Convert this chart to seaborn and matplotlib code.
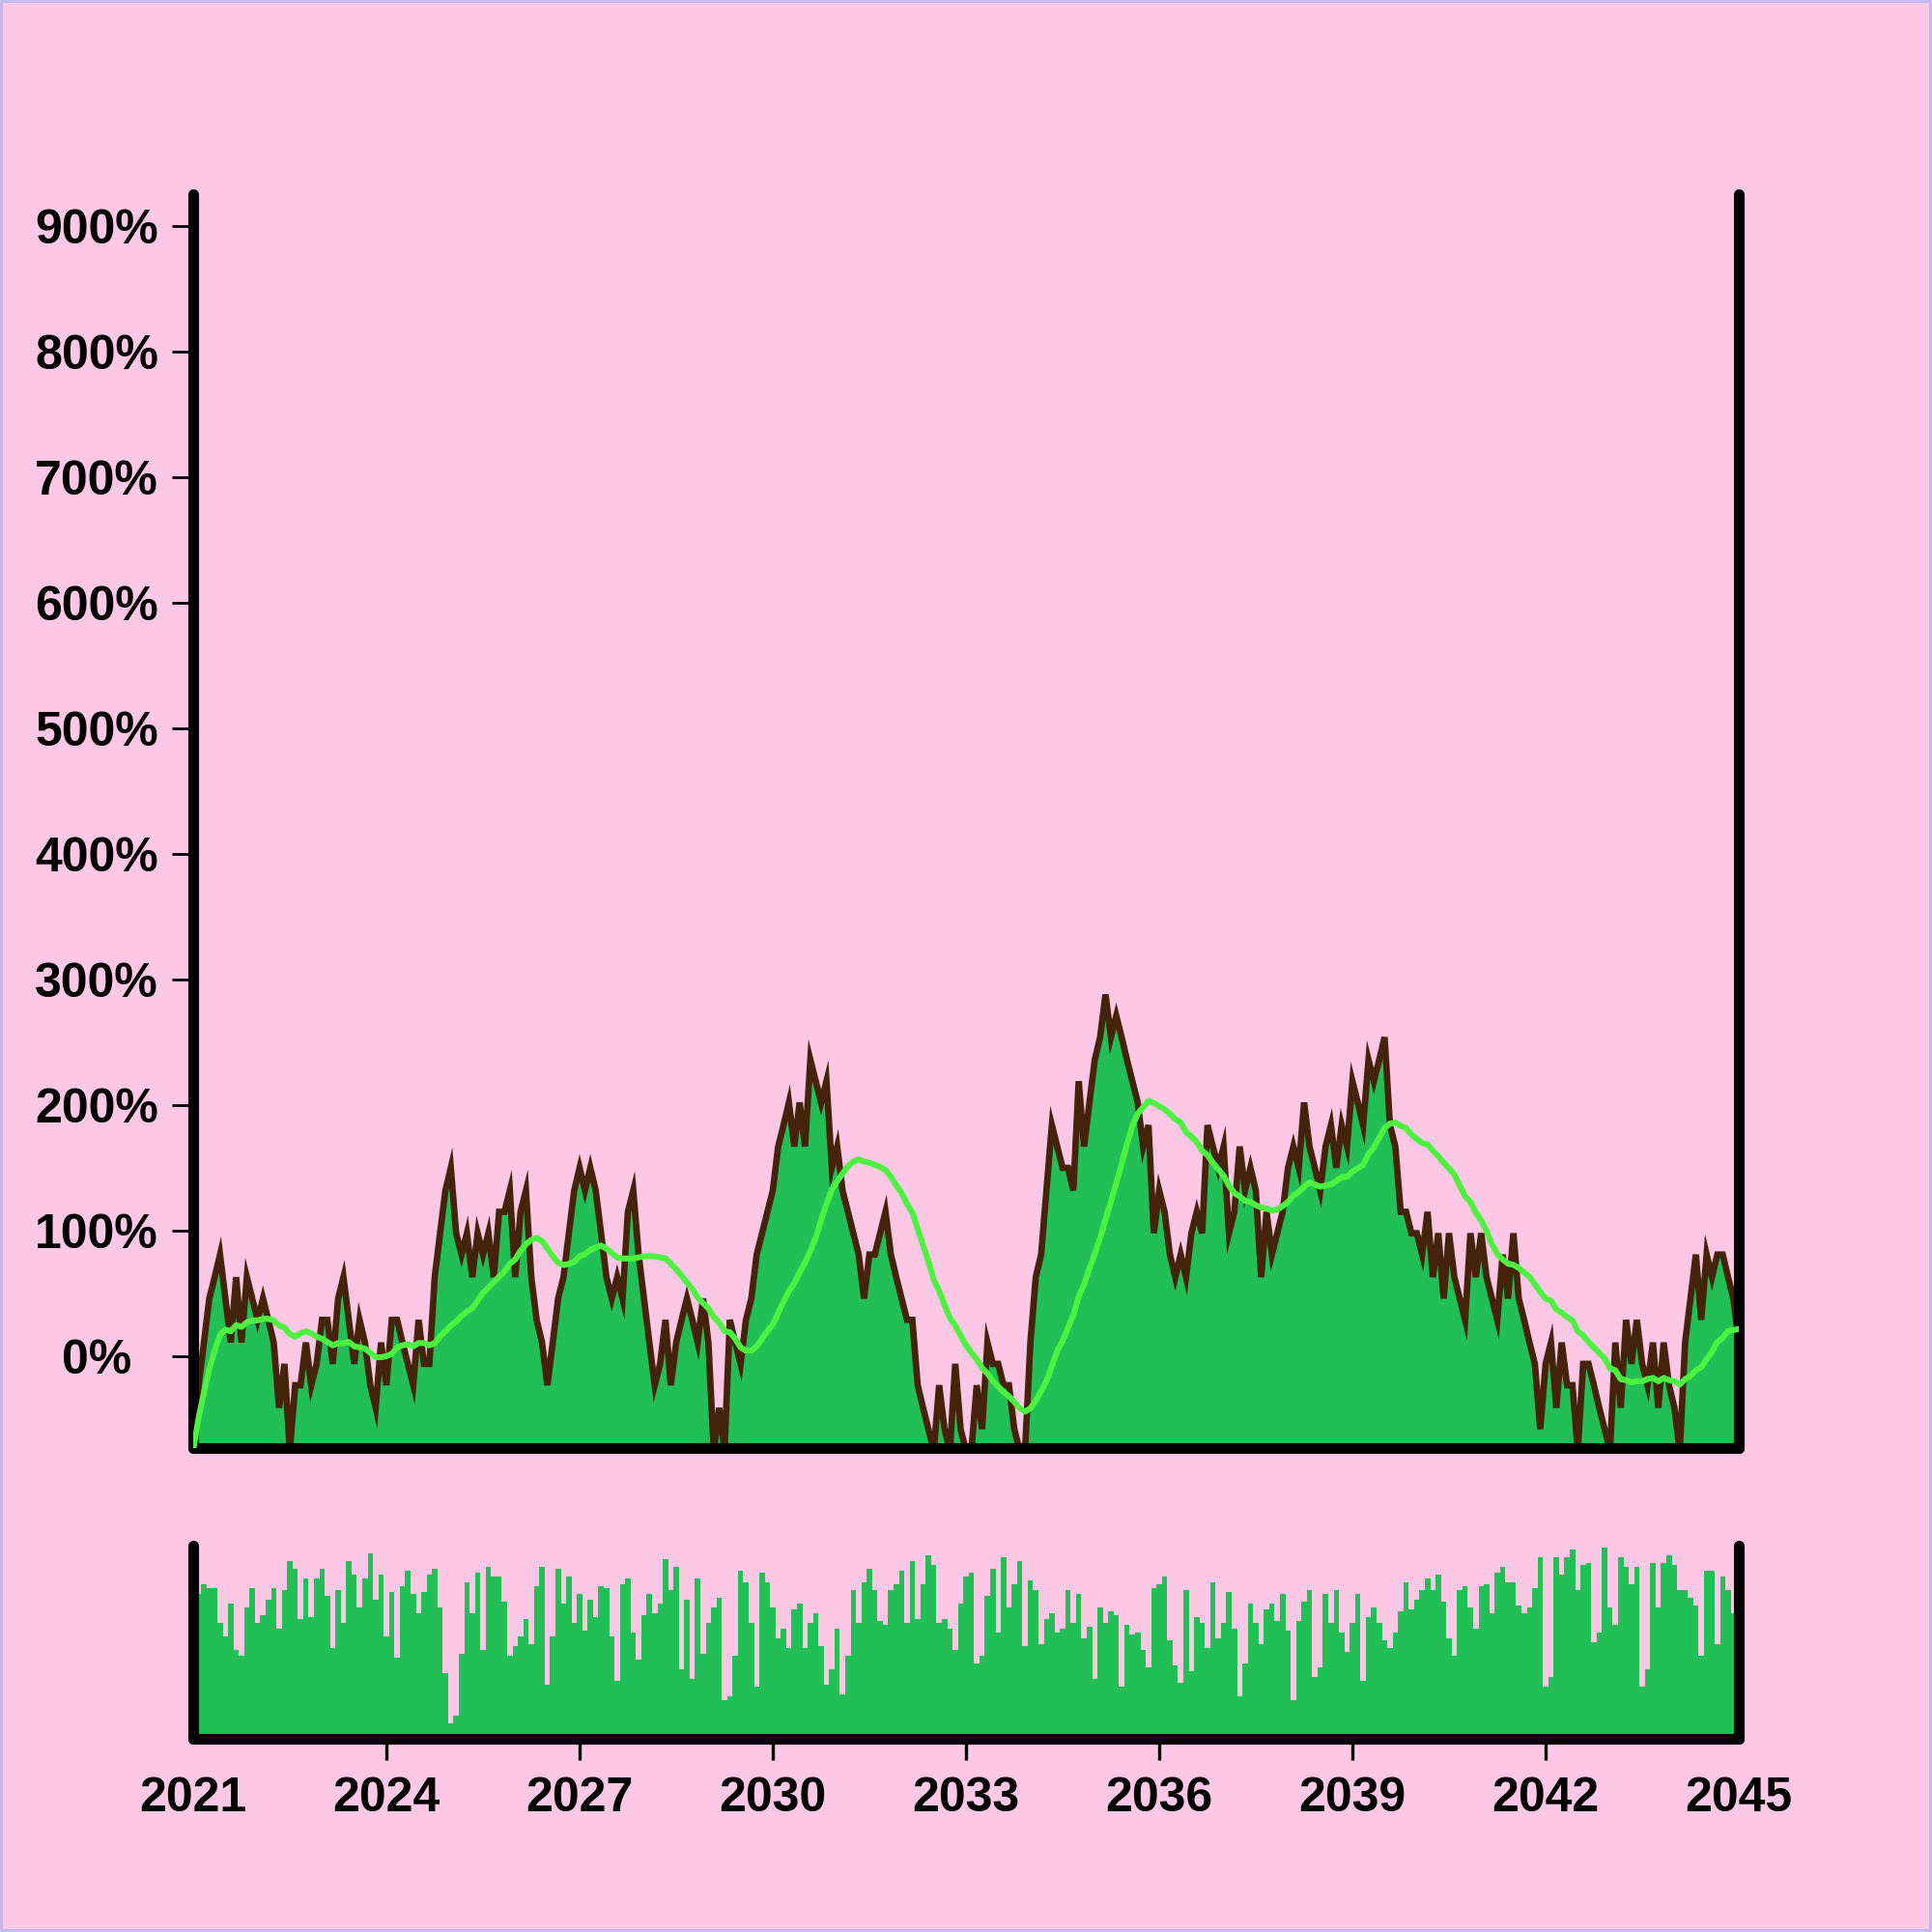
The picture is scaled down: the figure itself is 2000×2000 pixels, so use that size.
import numpy as np
import pandas as pd
import seaborn as sns
import matplotlib.pyplot as plt

# monthly values, Jan 2021 .. Jan 2045 (percent)
change_pct = [
    -75, -23, 11, 46, 63, 81, 46, 11, 63, 11, 63, 46,
    29, 46, 29, 11, -41, -6, -75, -23, -23, 11, -23, -6,
    29, 29, -6, 46, 63, 29, -6, 29, 11, -23, -41, 11,
    -23, 29, 29, 11, -6, -23, 29, -6, -6, 63, 98, 132,
    150, 98, 81, 98, 63, 98, 81, 98, 63, 115, 115, 132,
    63, 115, 132, 63, 29, 11, -23, 11, 46, 63, 98, 132,
    150, 132, 150, 132, 98, 63, 46, 63, 46, 115, 132, 81,
    46, 11, -23, -6, 29, -23, 11, 29, 46, 29, 11, 46,
    11, -75, -41, -75, 29, 11, -6, 29, 46, 81, 98, 115,
    132, 167, 184, 202, 167, 202, 167, 236, 219, 202, 219, 150,
    167, 132, 115, 98, 81, 46, 81, 81, 98, 115, 81, 63,
    46, 29, 29, -23, -41, -58, -75, -23, -58, -75, -6, -58,
    -75, -75, -23, -58, 11, -6, -6, -23, -23, -58, -75, -75,
    11, 63, 81, 132, 184, 167, 150, 150, 132, 219, 167, 202,
    236, 254, 288, 254, 271, 254, 236, 219, 202, 167, 184, 98,
    132, 115, 81, 63, 81, 63, 98, 115, 98, 184, 167, 150,
    167, 98, 115, 167, 132, 150, 132, 63, 115, 81, 98, 115,
    150, 167, 150, 202, 167, 150, 132, 167, 184, 150, 184, 167,
    219, 202, 184, 236, 219, 236, 254, 184, 167, 115, 115, 98,
    98, 81, 115, 63, 98, 46, 98, 63, 46, 29, 98, 63,
    98, 63, 46, 29, 81, 46, 98, 46, 29, 11, -6, -58,
    -6, 11, -41, 11, -23, -23, -75, -6, -6, -23, -41, -58,
    -75, 11, -41, 29, -6, 29, -6, -23, 11, -41, 11, -23,
    -41, -75, 11, 46, 81, 29, 81, 63, 81, 81, 63, 46, 11,
]

# volume bars, as percent of the lower panel height
volume = [
    75, 75, 80, 78, 78, 60, 53, 70, 46, 43, 68, 78,
    60, 64, 72, 78, 57, 77, 92, 88, 62, 83, 63, 83,
    88, 74, 47, 77, 60, 92, 85, 68, 83, 96, 72, 85,
    53, 76, 42, 79, 87, 75, 65, 76, 85, 88, 68, 34,
    8, 12, 44, 81, 65, 86, 46, 89, 84, 84, 71, 43,
    48, 53, 62, 49, 79, 89, 28, 53, 88, 70, 84, 60,
    75, 56, 72, 63, 79, 78, 53, 30, 80, 83, 55, 41,
    64, 75, 65, 70, 93, 77, 89, 36, 72, 31, 83, 44,
    60, 68, 73, 20, 22, 43, 87, 81, 60, 27, 86, 81,
    68, 52, 57, 47, 67, 70, 47, 60, 65, 48, 28, 36,
    57, 23, 43, 77, 60, 81, 88, 77, 61, 59, 77, 80,
    87, 60, 92, 62, 80, 95, 90, 60, 62, 57, 46, 70,
    84, 86, 39, 43, 74, 88, 55, 94, 68, 80, 92, 48,
    82, 77, 49, 62, 65, 55, 57, 77, 60, 75, 52, 58,
    31, 68, 60, 66, 64, 27, 59, 54, 55, 46, 37, 78,
    80, 84, 51, 38, 29, 77, 35, 63, 60, 47, 81, 52,
    60, 76, 57, 22, 39, 70, 60, 49, 67, 70, 61, 75,
    56, 20, 61, 71, 77, 32, 37, 75, 60, 77, 55, 45,
    60, 75, 30, 63, 68, 60, 51, 47, 55, 66, 81, 67,
    72, 77, 83, 77, 85, 71, 52, 43, 77, 79, 68, 57,
    79, 80, 65, 86, 89, 81, 81, 69, 65, 68, 78, 94,
    27, 32, 94, 85, 94, 98, 77, 90, 91, 50, 55, 99,
    68, 59, 94, 89, 80, 89, 27, 36, 91, 68, 91, 95,
    90, 77, 77, 73, 69, 43, 87, 87, 49, 84, 77, 65, 65,
]

year_ticks = [2021, 2024, 2027, 2030, 2033, 2036, 2039, 2042, 2045]
pct_ticks = [0, 100, 200, 300, 400, 500, 600, 700, 800, 900]

BG = '#fcc8e6'
FILL = '#21bf55'
LINE = '#45230a'
SMOOTH = '#4cf23f'

sns.set_style('white', {'axes.facecolor': BG, 'figure.facecolor': BG})
plt.rcParams['font.family'] = ['Liberation Sans', 'DejaVu Sans']

dates = 2021 + np.arange(len(change_pct)) / 12
df = pd.DataFrame({'date': dates, 'change': change_pct, 'volume': volume})
df['smooth'] = df['change'].rolling(20, min_periods=1).mean()  # trailing average

fig = plt.figure(figsize=(10, 10), dpi=200)
fig.patch.set_facecolor(BG)
fig.patch.set_edgecolor('#c8b8f0')
fig.patch.set_linewidth(2)

ax = fig.add_axes([0.1, 0.2505, 0.8, 0.649])
ax_vol = fig.add_axes([0.1, 0.1, 0.8, 0.1], sharex=ax)

# price panel
ax.fill_between(df['date'], df['change'], -200, color=FILL, linewidth=0, zorder=1)
sns.lineplot(data=df, x='date', y='change', ax=ax, color=LINE, linewidth=2.4,
             estimator=None, zorder=2, solid_joinstyle='miter')
sns.lineplot(data=df, x='date', y='smooth', ax=ax, color=SMOOTH, linewidth=2.2,
             estimator=None, zorder=3)

# volume panel
edges = [d - 1 / 24 for d in dates] + [dates[-1] + 1 / 24]
sns.histplot(data=df, x='date', weights='volume', bins=edges, ax=ax_vol,
             color=FILL, alpha=1, linewidth=0, element='bars')

ax.set_xlim(2021, 2045)
ax.set_ylim(-73, 925)
ax_vol.set_ylim(0, 100)

for a in (ax, ax_vol):
    a.set_xlabel('')
    a.set_ylabel('')
    a.spines['top'].set_visible(False)
    for side in ('left', 'right', 'bottom'):
        a.spines[side].set_linewidth(4)
        a.spines[side].set_color('black')
        a.spines[side].set_capstyle('round')

ax.set_yticks(pct_ticks)
ax.set_yticklabels([f'{p}%' for p in pct_ticks], ha='center', fontweight='bold')
ax.tick_params(axis='y', left=True, length=8, width=1, pad=28, labelsize=18, colors='black')
ax.tick_params(axis='x', bottom=False, labelbottom=False)

ax_vol.set_xticks(year_ticks)
ax_vol.set_xticklabels([str(y) for y in year_ticks], fontweight='bold')
ax_vol.tick_params(axis='x', bottom=True, length=8, width=1.2, pad=6, labelsize=18, colors='black')
ax_vol.tick_params(axis='y', left=False, labelleft=False)
# no tick marks at the two corners, only labels
ticks = ax_vol.xaxis.get_major_ticks()
ticks[0].tick1line.set_visible(False)
ticks[-1].tick1line.set_visible(False)

fig.savefig('out.png', dpi=200, facecolor=fig.get_facecolor(), edgecolor=fig.get_edgecolor())
